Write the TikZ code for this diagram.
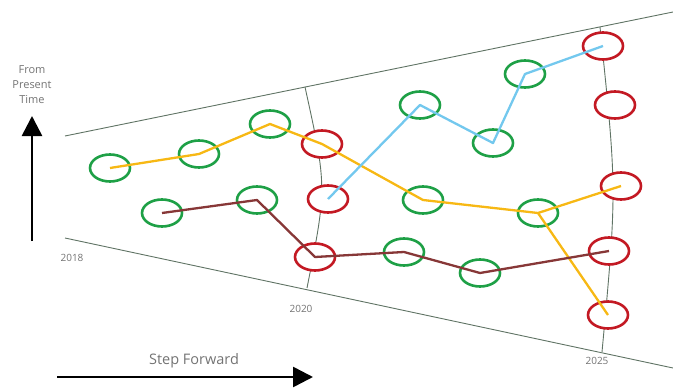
\documentclass[tikz,border=0pt]{standalone}
\usepackage{fontspec}
\setmainfont{Open Sans}
\usetikzlibrary{shapes.geometric,arrows.meta}
\definecolor{ggreen}{RGB}{30,160,70}
\definecolor{rred}{RGB}{195,25,35}
\definecolor{yyellow}{RGB}{247,184,20}
\definecolor{bblue}{RGB}{115,200,238}
\definecolor{bbrown}{RGB}{135,55,55}
\definecolor{edge}{RGB}{95,115,100}
\definecolor{txt}{RGB}{115,115,115}
\tikzset{
  ov/.style={ellipse,draw,fill=white,line width=2.6pt,minimum width=40pt,minimum height=27pt,inner sep=0pt},
  gn/.style={ov,draw=ggreen},
  rd/.style={ov,draw=rred},
  trend/.style={line width=2.3pt,line join=round},
  bound/.style={draw=edge,line width=0.9pt},
  lbl/.style={text=txt,font=\fontsize{10}{12}\selectfont},
  bigarrow/.style={line width=2.6pt,-{Triangle[length=20pt,width=20pt]}}
}
\begin{document}
\begin{tikzpicture}[x=1pt,y=-1pt]
\useasboundingbox (0,0) rectangle (673,388);
% boundaries
\coordinate (TL) at (65,136);
\coordinate (TR) at (673,12);
\coordinate (BL) at (65,238);
\coordinate (BR) at (673,368);
\coordinate (D1t) at (305,87);
\coordinate (D1b) at (307,288);
\coordinate (D2t) at (600,27);
\coordinate (D2b) at (602,352);
\draw[bound] (TL) -- (TR);
\draw[bound] (BL) -- (BR);
\draw[bound] (D1t) .. controls (327,187) .. (D1b);
\draw[bound] (D2t) .. controls (617,190) .. (D2b);
% labels
\node[lbl] (y18) at (72,258) {2018};
\node[lbl] (y20) at (301,309) {2020};
\node[lbl] (y25) at (597,361) {2025};
\node[text=txt,font=\fontsize{11}{15}\selectfont,align=center] (fpt) at (32,85) {From\\Present\\Time};
\node[text=txt,font=\fontsize{14.5}{16}\selectfont] (sf) at (194,361) {Step Forward};
% arrows
\coordinate (va0) at (32,241);
\coordinate (va1) at (32,116);
\draw[bigarrow] (va0) -- (va1);
\coordinate (ha0) at (57,377);
\coordinate (ha1) at (313,377);
\draw[bigarrow] (ha0) -- (ha1);
% ellipses
\node[gn] (G1) at (110,168) {};
\node[gn] (G2) at (199,154) {};
\node[gn] (G3) at (270,124) {};
\node[gn] (G4) at (162,213) {};
\node[gn] (G5) at (257,200) {};
\node[gn] (G6) at (420,105) {};
\node[gn] (G7) at (493,143) {};
\node[gn] (G8) at (525,74) {};
\node[gn] (G9) at (423,200) {};
\node[gn] (G10) at (538,213) {};
\node[gn] (G11) at (404,252) {};
\node[gn] (G12) at (480,273) {};
\node[rd] (R1) at (322,144) {};
\node[rd] (R2) at (328,199) {};
\node[rd] (R3) at (315,257) {};
\node[rd] (R4) at (603,46) {};
\node[rd] (R5) at (615,105) {};
\node[rd] (R6) at (621,186) {};
\node[rd] (R7) at (609,251) {};
\node[rd] (R8) at (608,315) {};
% trend lines
\draw[trend,yyellow] (G1.center) -- (G2.center) -- (G3.center) -- (R1.center) -- (G9.center) -- (G10.center) -- (R6.center);
\draw[trend,yyellow] (G10.center) -- (R8.center);
\draw[trend,bblue] (R2.center) -- (G6.center) -- (G7.center) -- (G8.center) -- (R4.center);
\draw[trend,bbrown] (G4.center) -- (G5.center) -- (R3.center) -- (G11.center) -- (G12.center) -- (R7.center);
\end{tikzpicture}
\end{document}
